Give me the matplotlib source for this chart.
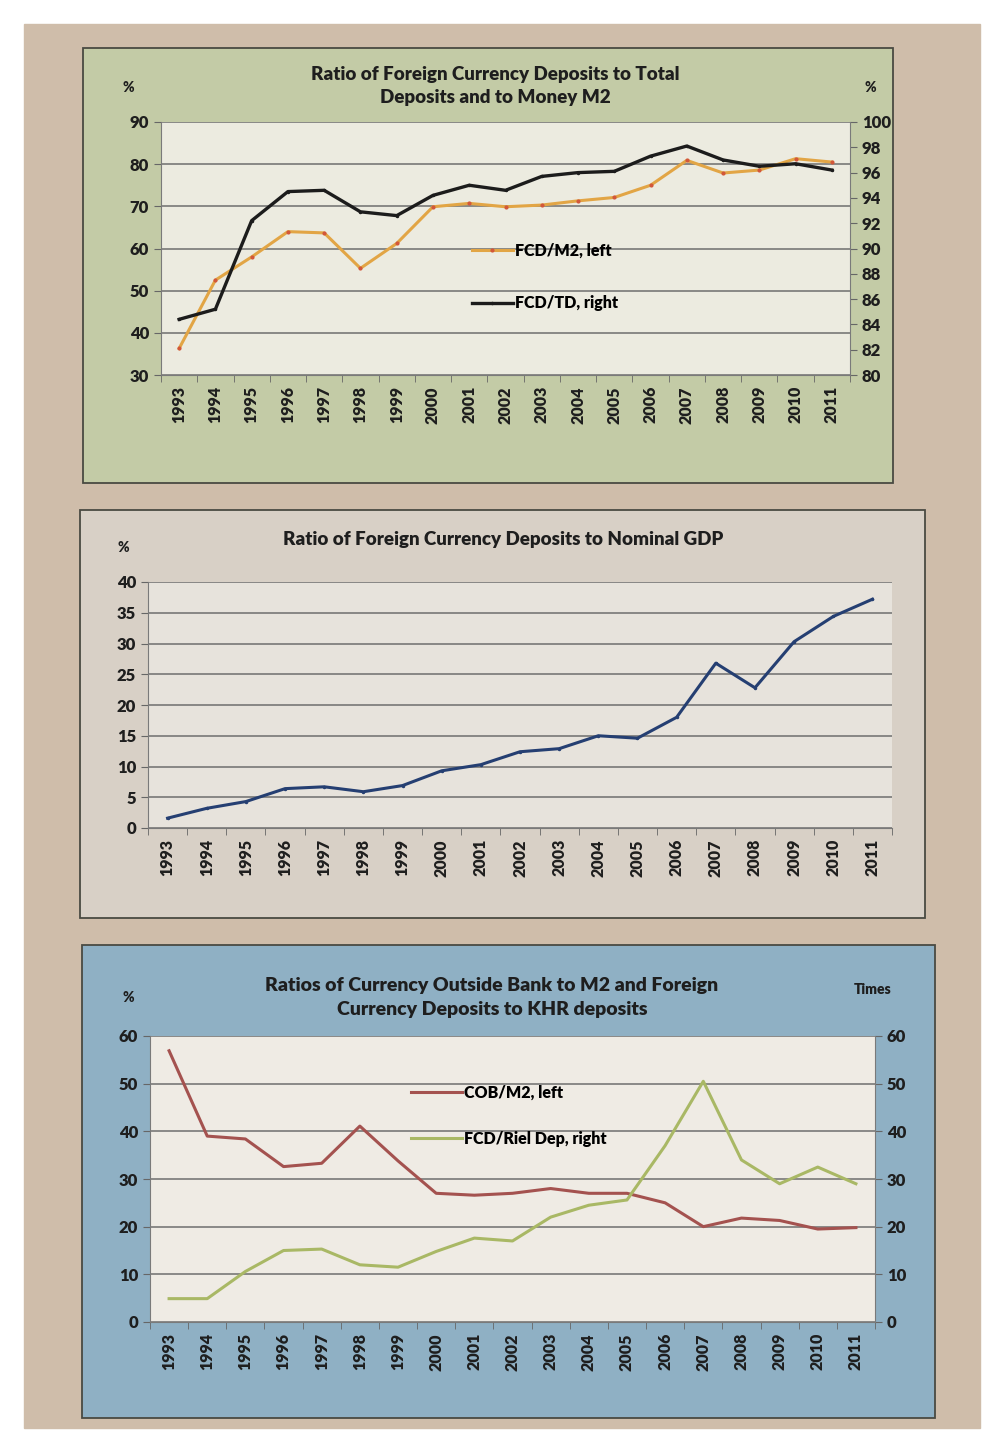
import matplotlib.pyplot as plt
from matplotlib.patches import Rectangle
import numpy as np

plt.rcParams['font.family'] = ['Lato', 'DejaVu Sans']
plt.rcParams['font.weight'] = 'heavy'

W, H = 989, 1443

years = [str(y) for y in range(1993, 2012)]

# chart 1: FCD / M2 (left %) and FCD / total deposits (right %)
fcd_m2 = [36.3, 52.5, 58.0, 64.0, 63.7, 55.3, 61.2, 69.9, 70.7, 69.9,
          70.3, 71.3, 72.1, 75.0, 80.9, 77.9, 78.6, 81.3, 80.5]
fcd_td = [84.4, 85.2, 92.2, 94.5, 94.6, 92.9, 92.6, 94.2, 95.0, 94.6,
          95.7, 96.0, 96.1, 97.3, 98.1, 97.0, 96.5, 96.7, 96.2]

# chart 2: FCD / nominal GDP (%)
fcd_gdp = [1.6, 3.2, 4.3, 6.4, 6.7, 5.9, 6.9, 9.3, 10.3, 12.4,
           12.9, 15.0, 14.6, 18.0, 26.8, 22.8, 30.3, 34.4, 37.2]

# chart 3: currency outside banks / M2 (left %) and FCD / riel deposits (right, times)
cob_m2 = [56.9, 39.0, 38.4, 32.6, 33.3, 41.1, 33.8, 27.0, 26.6, 27.0,
          28.0, 27.0, 27.0, 25.0, 20.0, 21.8, 21.3, 19.5, 19.8]
fcd_riel = [4.9, 4.9, 10.6, 15.0, 15.3, 12.0, 11.5, 14.8, 17.6, 17.0,
            22.0, 24.5, 25.6, 37.0, 50.5, 34.0, 29.0, 32.5, 29.0]


def box(x0, y0, x1, y1):
    return [x0 / W, 1 - y1 / H, (x1 - x0) / W, (y1 - y0) / H]


def panel(x0, y0, x1, y1, color):
    fig.patches.append(Rectangle((x0 / W, 1 - y1 / H), (x1 - x0) / W, (y1 - y0) / H,
                                 transform=fig.transFigure, facecolor=color,
                                 edgecolor='#4a4a42', lw=1.3, zorder=-1))


def style(ax, bg):
    ax.set_facecolor(bg)
    x = np.arange(len(years))
    ax.set_xlim(-0.5, len(years) - 0.5)
    ax.set_xticks(x)
    ax.set_xticklabels(years, rotation=90, fontsize=11.5, color='#1e1e1e')
    ax.set_xticks(np.arange(len(years) + 1) - 0.5, minor=True)
    ax.tick_params(axis='x', which='major', length=0, pad=8)
    ax.tick_params(axis='x', which='minor', length=5, color='#666666', direction='out')
    ax.tick_params(axis='y', length=5, color='#666666', labelsize=12, labelcolor='#1e1e1e')
    ax.grid(axis='y', color='#6e6e6e', lw=1.1)
    ax.set_axisbelow(True)
    for s in ['top', 'right']:
        ax.spines[s].set_visible(False)
    for s in ['left', 'bottom']:
        ax.spines[s].set_color('#7a7a7a')
    return x


def right_axis(ax, lo, hi, step):
    axr = ax.twinx()
    axr.set_ylim(lo, hi)
    axr.set_yticks(range(lo, hi + 1, step))
    axr.tick_params(axis='y', length=5, color='#666666', labelsize=12, labelcolor='#1e1e1e')
    for s in ['top', 'left', 'bottom']:
        axr.spines[s].set_visible(False)
    axr.spines['right'].set_color('#7a7a7a')
    return axr


fig = plt.figure(figsize=(W / 100, H / 100), dpi=100, facecolor='white')
fig.patches.append(Rectangle((24 / W, 1 - 1428 / H), (980 - 24) / W, (1428 - 24) / H,
                             transform=fig.transFigure, color='#cfbdaa', zorder=-2))

panel(83, 48, 893, 483, '#c3cba6')
panel(80, 510, 925, 918, '#d8d0c6')
panel(82, 945, 935, 1418, '#8fb0c4')

# ---- chart 1
ax1 = fig.add_axes(box(161, 122, 850, 375))
x = style(ax1, '#ecebe0')
ax1.set_ylim(30, 90)
ax1.set_yticks(range(30, 91, 10))
ax1r = right_axis(ax1, 80, 100, 2)
l1, = ax1.plot(x, fcd_m2, color='#e2a545', lw=2.2, marker='.', ms=4, mfc='#d2573a', mec='#d2573a')
l2, = ax1r.plot(x, fcd_td, color='#1c1c1c', lw=2.4, marker='.', ms=3)
ax1r.legend([l1, l2], ['FCD/M2, left', 'FCD/TD, right'], loc='upper left',
            bbox_to_anchor=(0.43, 0.58), frameon=False, fontsize=11.5, handlelength=2.6,
            handletextpad=0.1, labelspacing=2.3)
fig.text(495 / W, 1 - 86 / H, 'Ratio of Foreign Currency Deposits to Total\nDeposits and to Money M2',
         ha='center', va='center', fontsize=13.5, color='#1e1e1e', linespacing=1.45)
fig.text(128 / W, 1 - 88 / H, '%', ha='center', va='center', fontsize=10, color='#1e1e1e')
fig.text(870 / W, 1 - 88 / H, '%', ha='center', va='center', fontsize=10, color='#1e1e1e')

# ---- chart 2
ax2 = fig.add_axes(box(148, 582, 892, 828))
x = style(ax2, '#e7e3dc')
ax2.set_ylim(0, 40)
ax2.set_yticks(range(0, 41, 5))
ax2.plot(x, fcd_gdp, color='#253f72', lw=2.2, marker='.', ms=3)
fig.text(503 / W, 1 - 540 / H, 'Ratio of Foreign Currency Deposits to Nominal GDP',
         ha='center', va='center', fontsize=13.5, color='#1e1e1e')
fig.text(123 / W, 1 - 548 / H, '%', ha='center', va='center', fontsize=10, color='#1e1e1e')

# ---- chart 3
ax3 = fig.add_axes(box(150, 1036, 875, 1322))
x = style(ax3, '#efebe4')
ax3.set_ylim(0, 60)
ax3.set_yticks(range(0, 61, 10))
ax3r = right_axis(ax3, 0, 60, 10)
l3, = ax3.plot(x, cob_m2, color='#a4524f', lw=2.2)
l4, = ax3r.plot(x, fcd_riel, color='#a9b865', lw=2.2)
ax3r.legend([l3, l4], ['COB/M2, left', 'FCD/Riel Dep, right'], loc='upper left',
            bbox_to_anchor=(0.34, 0.88), frameon=False, fontsize=11.5, handlelength=3.2,
            handletextpad=0.1, labelspacing=1.9)
fig.text(492 / W, 1 - 997 / H, 'Ratios of Currency Outside Bank to M2 and Foreign\nCurrency Deposits to KHR deposits',
         ha='center', va='center', fontsize=14, color='#1e1e1e', linespacing=1.5)
fig.text(128 / W, 1 - 998 / H, '%', ha='center', va='center', fontsize=10, color='#1e1e1e')
fig.text(873 / W, 1 - 990 / H, 'Times', ha='center', va='center', fontsize=10, color='#1e1e1e')

fig.savefig('out.png', dpi=100, facecolor=fig.get_facecolor())
